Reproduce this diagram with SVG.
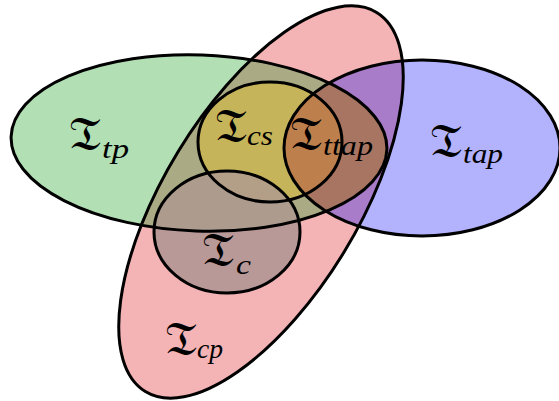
<svg xmlns="http://www.w3.org/2000/svg" xmlns:xlink="http://www.w3.org/1999/xlink" width="559" height="401" viewBox="0 0 559 401">
<style>
.out{fill:none;stroke:#000;stroke-width:3}
.frak{font-family:"DejaVu Serif","DejaVu Sans","Noto Sans",serif;font-size:48px;fill:#000}
.sub{font-family:"Liberation Serif",serif;font-style:italic;font-size:28px;fill:#000}
</style>
<defs>
<ellipse id="eG" cx="199" cy="143" rx="188" ry="88" transform="rotate(2 199 143)"/>
<ellipse id="eP" cx="261" cy="202" rx="222" ry="97" transform="rotate(-58.6 261 202)"/>
<ellipse id="eB" cx="422" cy="148" rx="138" ry="88"/>
<ellipse id="eCs" cx="270" cy="142" rx="72" ry="60"/>
<ellipse id="eC" cx="227" cy="232" rx="73" ry="61"/>
<clipPath id="cG"><ellipse cx="199" cy="143" rx="188" ry="88" transform="rotate(2 199 143)"/></clipPath>
<clipPath id="cP"><ellipse cx="261" cy="202" rx="222" ry="97" transform="rotate(-58.6 261 202)"/></clipPath>
<clipPath id="cB"><ellipse cx="422" cy="148" rx="138" ry="88"/></clipPath>
<clipPath id="cCs"><ellipse cx="270" cy="142" rx="72" ry="60"/></clipPath>
</defs>
<g id="set-tp"><use xlink:href="#eG" fill="#b2dfb4"/></g>
<g id="set-cp"><use xlink:href="#eP" fill="#f4b3b4"/></g>
<g id="set-tap"><use xlink:href="#eB" fill="#b3b3fd"/></g>
<g id="overlaps">
<g clip-path="url(#cG)"><use xlink:href="#eP" fill="#aaab85"/></g>
<g clip-path="url(#cP)"><use xlink:href="#eB" fill="#a97cca"/></g>
<g clip-path="url(#cG)"><g clip-path="url(#cP)"><use xlink:href="#eB" fill="#a77561"/></g></g>
</g>
<g id="set-cs"><use xlink:href="#eCs" fill="#c6b45a"/><g clip-path="url(#cB)"><use xlink:href="#eCs" fill="#bd7f4c"/></g></g>
<g id="set-c"><use xlink:href="#eC" fill="#b99898"/><g clip-path="url(#cG)"><use xlink:href="#eC" fill="#ad9b8e"/></g><g clip-path="url(#cCs)"><use xlink:href="#eC" fill="#b39e88"/></g></g>
<g id="outlines">
<use xlink:href="#eG" class="out"/>
<use xlink:href="#eP" class="out"/>
<use xlink:href="#eB" class="out"/>
<use xlink:href="#eCs" class="out"/>
<use xlink:href="#eC" class="out"/>
</g>
<g id="labels">
<text x="69" y="150" class="frak">&#x1D517;</text><text x="102" y="158" class="sub" textLength="27" lengthAdjust="spacingAndGlyphs">tp</text>
<text x="215" y="142" class="frak">&#x1D517;</text><text x="247" y="145" class="sub" textLength="26" lengthAdjust="spacingAndGlyphs">cs</text>
<text x="290" y="150" class="frak">&#x1D517;</text><text x="323" y="155" class="sub" textLength="50" lengthAdjust="spacingAndGlyphs">ttap</text>
<text x="202" y="266" class="frak">&#x1D517;</text><text x="236" y="274" class="sub" textLength="15" lengthAdjust="spacingAndGlyphs">c</text>
<text x="165" y="355" class="frak">&#x1D517;</text><text x="197" y="358" class="sub" textLength="26" lengthAdjust="spacingAndGlyphs">cp</text>
<text x="430" y="157" class="frak">&#x1D517;</text><text x="463" y="163" class="sub" textLength="40" lengthAdjust="spacingAndGlyphs">tap</text>
</g>
</svg>
